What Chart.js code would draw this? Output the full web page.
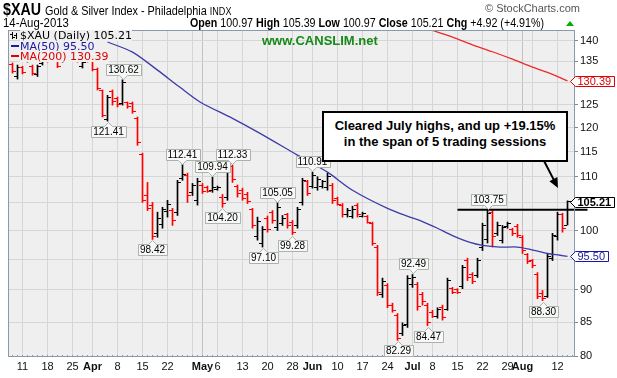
<!DOCTYPE html>
<html><head><meta charset="utf-8">
<script src="https://cdn.jsdelivr.net/npm/chart.js@4.4.0/dist/chart.umd.min.js"></script>
<style>
html,body{margin:0;padding:0;background:#fff;}
#wrap{position:relative;width:617px;height:378px;overflow:hidden;font-family:"Liberation Sans",Arial,sans-serif;}
canvas{display:block;position:absolute;left:0;top:0;}
.t{position:absolute;white-space:nowrap;color:#000;transform-origin:0 0;}
</style></head><body>
<div id="wrap">
<canvas id="c" width="617" height="378"></canvas>
<div class="t" style="left:3px;top:2px;font-weight:bold;font-size:16px;line-height:16px;transform:scaleX(0.89);">$XAU</div>
<div class="t" style="left:45px;top:5px;font-size:12px;line-height:12px;transform:scaleX(0.905);">Gold &amp; Silver Index - Philadelphia <span style="font-size:10px">INDX</span></div>
<div class="t" style="left:3px;top:17px;font-size:12px;line-height:12px;transform:scaleX(0.95);">14-Aug-2013</div>
<div class="t" style="left:190px;top:17px;font-size:12px;line-height:12px;transform:scaleX(0.892);"><b>Open</b> 100.97 <b>High</b> 105.39 <b>Low</b> 100.97 <b>Close</b> 105.21 <b>Chg</b> +4.92 (+4.91%)</div>
<div class="t" style="left:485px;top:3px;font-size:11px;line-height:11px;color:#555;">© StockCharts.com</div>
<div class="t" style="left:262px;top:34px;font-size:13px;line-height:13px;font-weight:bold;color:#168a16;">www.CANSLIM.net</div>
<div class="t" style="left:20px;top:30px;font-family:'DejaVu Sans';font-size:11px;line-height:11px;background:#efefef;">$XAU (Daily) 105.21</div>
<div class="t" style="left:20px;top:41px;font-family:'DejaVu Sans';font-size:11px;line-height:11px;color:#1a1aa0;background:#efefef;">MA(50) 95.50</div>
<div class="t" style="left:20px;top:51px;font-family:'DejaVu Sans';font-size:11px;line-height:11px;color:#e00000;background:#efefef;">MA(200) 130.39</div>
<div class="t" style="left:322px;top:111px;width:242px;height:42px;border:2px solid #000;background:#fff;text-align:center;font-weight:bold;font-size:13px;line-height:16px;padding-top:5px;box-sizing:content-box;">Cleared July highs, and up +19.15%<br>in the span of 5 trading sessions</div>
</div>
<script>
// ---- data ----
const firstBarIndex = -2; // trading-day index of first bar (0 = 11-Mar-2013)
const barHigh = [134.6,134.1,133.8,136.0,134.1,134.1,135.8,136.5,136.8,136.2,136.5,137.0,137.2,136.8,135.0,136.0,135.5,133.4,128.3,127.1,128.3,126.7,130.62,125.6,125.6,122.3,114.7,108.9,105.1,103.3,104.2,105.5,104.0,109.3,112.41,110.7,108.7,109.7,108.7,108.2,109.94,108.2,106.6,111.7,112.33,108.4,107.8,107.0,104.0,102.4,100.7,102.6,103.6,105.05,102.7,103.1,101.8,104.2,109.7,109.3,110.91,110.0,109.3,110.7,108.7,106.1,104.9,104.0,104.4,104.9,103.3,102.7,101.5,97.4,91.9,91.0,87.9,86.3,84.9,92.3,92.49,91.2,89.6,87.9,86.8,87.2,87.6,91.9,90.4,90.2,94.0,95.2,92.8,95.2,101.3,103.75,103.6,101.5,100.9,101.5,100.4,101.1,99.1,96.0,95.0,92.8,89.9,96.0,99.5,103.3,103.1,105.39];
const barLow = [132.2,130.8,132.0,134.8,131.7,131.4,134.1,134.8,134.9,133.5,134.8,135.2,135.3,134.8,133.4,134.8,132.7,128.3,122.3,121.41,124.9,124.5,124.9,124.2,123.1,116.3,105.1,103.6,98.42,98.8,100.4,102.4,100.9,102.7,109.3,105.1,106.4,104.6,106.8,107.0,107.0,107.4,104.2,105.5,108.9,106.1,105.5,104.9,100.4,98.3,97.10,99.7,101.3,100.0,100.9,100.4,99.28,100.4,104.6,106.4,107.8,107.4,107.8,107.4,104.9,104.6,102.4,102.4,102.2,102.4,102.4,101.3,97.4,89.1,88.8,87.2,86.5,82.29,83.0,84.2,90.4,86.8,87.6,84.47,85.7,85.6,85.3,86.8,89.4,89.4,90.2,91.5,91.0,92.0,96.5,97.8,97.1,99.1,97.8,100.4,99.1,98.8,96.0,94.3,93.6,88.6,88.30,88.8,94.8,98.3,99.7,100.97];
const barOpen = [134.3,131.3,133.5,135.0,133.8,131.9,134.4,136.2,135.2,135.9,135.0,136.8,135.6,136.5,133.7,135.8,135.2,133.0,128.1,121.8,127.9,126.4,125.3,125.4,125.2,122.0,114.5,106.4,104.6,99.4,101.0,103.4,103.6,103.2,109.6,110.2,106.9,105.4,108.4,107.9,107.4,107.6,106.1,106.1,112.0,108.1,107.3,106.6,103.7,98.9,97.7,102.2,103.2,100.6,101.3,102.8,101.4,100.8,105.0,109.0,108.2,107.9,108.2,107.9,108.4,105.9,104.6,102.8,102.6,104.6,102.6,102.5,101.3,97.1,89.3,90.7,87.6,86.0,83.3,84.6,90.8,90.9,89.3,87.6,86.5,85.9,87.3,87.0,90.2,90.0,90.6,94.8,92.5,92.4,97.0,98.5,103.2,99.5,98.2,100.7,100.2,100.7,98.8,95.8,94.8,92.5,89.4,89.0,95.2,99.0,102.8,100.97];
const barClose = [132.6,133.6,132.4,135.8,132.0,133.8,135.5,135.0,136.5,133.8,136.2,135.5,136.9,135.0,134.6,135.0,133.0,128.6,122.6,126.6,125.6,125.0,129.9,124.5,123.5,116.8,105.4,103.9,98.9,102.2,103.8,104.8,101.8,108.9,110.4,106.4,108.3,109.1,107.1,107.2,107.9,108.0,104.9,111.3,109.5,106.8,105.9,105.2,100.8,101.6,100.2,100.1,101.8,104.2,102.2,100.9,99.7,103.8,109.3,106.8,110.3,109.4,109.0,110.1,105.4,104.8,102.8,103.6,103.8,102.8,103.1,101.5,97.8,89.6,91.4,87.6,86.8,82.6,84.5,91.8,92.0,87.4,88.1,85.0,85.9,86.9,85.7,91.5,89.6,89.6,93.6,92.0,91.3,94.8,100.8,103.0,99.0,100.9,100.6,101.2,99.4,99.2,96.5,94.6,93.9,89.0,88.6,95.5,99.1,102.8,100.29,105.21];

const ma50Index  = [17,22,27,31.5,35.5,42,47.5,55,61,66,73,77.5,80,83,86,89.5,92,95.5,99,101.5,105,107.5,109];
const ma50Values = [139.7,137.2,132.9,128.9,125.6,122.0,118.8,114.3,110.9,107.4,104.0,102.4,101.6,100.4,99.1,97.9,97.4,97.1,97.1,96.7,96.0,95.7,95.50];
const ma200Index  = [80,82,86,90,94,98,102,106,109];
const ma200Values = [143.6,142.6,140.9,139.0,137.3,135.5,133.6,131.9,130.39];

const xTickIndex  = [0,5,10,14,19,24,29,34,36,39,44,49,54,58,63,68,73,78,82,87,92,97,100,102,107];
const xTickLabels = ['11','18','25','Apr','8','15','22','','May','6','13','20','28','Jun','10','17','24','Jul','8','15','22','29','Aug','','12'];
const monthLabels = ['Apr','May','Jun','Jul','Aug'];
const yTickValues = [80,85,90,95,100,105,110,115,120,125,130,135,140];

const calloutIndex = [20,17,26,32,38,40,42,51,48,54,58,75,78,81,93,104];
const calloutSide  = ['H','L','L','H','H','L','H','H','L','L','H','L','H','L','H','L'];

const breakoutLevel = 103.75;
const breakoutFrom = 87, breakoutTo = 113;

// ---- build ----
const idx = barHigh.map((_, i) => i + firstBarIndex);
const RED = '#ff0000', BLK = '#000000';
const isRed = i => barClose[i] < barOpen[i];
function tickImg(color, left) {
  const c = document.createElement('canvas'); c.width = 7; c.height = 1;
  const g = c.getContext('2d'); g.fillStyle = color; g.fillRect(left ? 0 : 4, 0, 3, 1); return c;
}
const imgs = { oR: tickImg(RED, true), oB: tickImg(BLK, true), cR: tickImg(RED, false), cB: tickImg(BLK, false) };
const FONT = "'Liberation Sans', Arial, sans-serif";

const decor = {
  id: 'decor',
  beforeDraw(chart) {
    const { ctx, chartArea: a } = chart;
    ctx.save(); ctx.fillStyle = '#efefef';
    ctx.fillRect(a.left, a.top, a.right - a.left, a.bottom - a.top); ctx.restore();
  },
  beforeDatasetsDraw(chart) { chart.ctx.imageSmoothingEnabled = false; },
  afterDraw(chart) {
    const { ctx, chartArea: a, scales: { x, y } } = chart;
    ctx.save();
    ctx.imageSmoothingEnabled = true;
    // daily tick marks along bottom
    ctx.fillStyle = '#999';
    for (let k = Math.ceil(x.min); k <= Math.floor(x.max); k++) {
      ctx.fillRect(Math.round(x.getPixelForValue(k) - 0.5), a.bottom - 2, 1, 2);
    }
    // border
    ctx.strokeStyle = '#8a9aaa'; ctx.lineWidth = 1;
    ctx.strokeRect(a.left + 0.5, a.top + 0.5, a.right - a.left - 1, a.bottom - a.top - 1);
    // callouts
    ctx.font = '10px ' + FONT; ctx.textBaseline = 'middle'; ctx.textAlign = 'center';
    calloutIndex.forEach((bi, k) => {
      const i = bi - firstBarIndex;
      const hi = calloutSide[k] === 'H';
      const v = hi ? barHigh[i] : barLow[i];
      const px = Math.round(x.getPixelForValue(bi)) + 0.5;
      const py = Math.round(y.getPixelForValue(v));
      const txt = v.toFixed(2);
      const w = Math.round(ctx.measureText(txt).width) + 4, h = 11;
      const bx = Math.round(px - w / 2) + 0.5;
      const by = hi ? py - 5 - h + 0.5 : py + 5 + 0.5;
      ctx.beginPath();
      if (hi) {
        ctx.moveTo(bx, by); ctx.lineTo(bx + w, by); ctx.lineTo(bx + w, by + h);
        ctx.lineTo(px + 4, by + h); ctx.lineTo(px, by + h + 4); ctx.lineTo(px - 4, by + h); ctx.lineTo(bx, by + h);
      } else {
        ctx.moveTo(bx, by); ctx.lineTo(px - 4, by); ctx.lineTo(px, by - 4); ctx.lineTo(px + 4, by);
        ctx.lineTo(bx + w, by); ctx.lineTo(bx + w, by + h); ctx.lineTo(bx, by + h);
      }
      ctx.closePath();
      ctx.fillStyle = '#f8f8f8'; ctx.fill();
      ctx.strokeStyle = '#a9b3a9'; ctx.stroke();
      ctx.fillStyle = '#000'; ctx.fillText(txt, px, by + h / 2 + 0.5);
    });
    // right value tags
    const tags = [
      [ma200Values[ma200Values.length - 1], '#e00000', 'normal'],
      [barClose[barClose.length - 1], '#000', 'bold'],
      [ma50Values[ma50Values.length - 1], '#1a1aa0', 'normal']
    ];
    tags.forEach(([v, col, wt]) => {
      const yc = Math.round(y.getPixelForValue(v)) + 0.5;
      const x0 = a.right - 4.5, x1 = a.right + 0.5;
      ctx.font = wt + ' 11px ' + FONT;
      const w = Math.round(ctx.measureText(v.toFixed(2)).width) + 5;
      ctx.beginPath();
      ctx.moveTo(x0, yc); ctx.lineTo(x1, yc - 5); ctx.lineTo(x1 + w, yc - 5);
      ctx.lineTo(x1 + w, yc + 5); ctx.lineTo(x1, yc + 5); ctx.closePath();
      ctx.fillStyle = '#fff'; ctx.fill();
      ctx.strokeStyle = col; ctx.lineWidth = 1; ctx.stroke();
      ctx.fillStyle = col; ctx.textAlign = 'left'; ctx.fillText(v.toFixed(2), x1 + 2, yc + 0.5);
    });
    // arrow
    ctx.strokeStyle = '#000'; ctx.fillStyle = '#000'; ctx.lineWidth = 2;
    const ax0 = 542, ay0 = 157, ax1 = 558, ay1 = 188;
    const ang = Math.atan2(ay1 - ay0, ax1 - ax0);
    ctx.beginPath(); ctx.moveTo(ax0, ay0);
    ctx.lineTo(ax1 - 8 * Math.cos(ang), ay1 - 8 * Math.sin(ang)); ctx.stroke();
    ctx.beginPath(); ctx.moveTo(ax1, ay1);
    ctx.lineTo(ax1 - 10 * Math.cos(ang) + 4.5 * Math.sin(ang), ay1 - 10 * Math.sin(ang) - 4.5 * Math.cos(ang));
    ctx.lineTo(ax1 - 10 * Math.cos(ang) - 4.5 * Math.sin(ang), ay1 - 10 * Math.sin(ang) + 4.5 * Math.cos(ang));
    ctx.closePath(); ctx.fill();
    // legend glyphs
    ctx.fillStyle = '#000';
    ctx.fillRect(12, 32, 1, 7); ctx.fillRect(10, 34, 2, 1); ctx.fillRect(13, 37, 2, 1);
    ctx.fillRect(16, 33, 1, 6); ctx.fillRect(14, 35, 2, 1);
    ctx.fillStyle = '#1a1aa0'; ctx.fillRect(11, 45, 8, 2);
    ctx.fillStyle = '#e00000'; ctx.fillRect(11, 55, 8, 2);
    // green up triangle
    ctx.fillStyle = '#00b000'; ctx.beginPath(); ctx.moveTo(566, 26); ctx.lineTo(574, 26); ctx.lineTo(570, 21); ctx.closePath(); ctx.fill();
    ctx.restore();
  }
};

new Chart(document.getElementById('c'), {
  type: 'bar',
  data: {
    datasets: [
      { type: 'line', data: [{ x: breakoutFrom, y: breakoutLevel }, { x: breakoutTo, y: breakoutLevel }],
        borderColor: '#000', borderWidth: 2, pointRadius: 0, clip: false, order: 0 },
      { type: 'line', data: ma50Index.map((v, i) => ({ x: v, y: ma50Values[i] })),
        borderColor: '#3c3ca8', borderWidth: 1.3, pointRadius: 0, tension: 0.3, order: 1 },
      { type: 'line', data: ma200Index.map((v, i) => ({ x: v, y: ma200Values[i] })),
        borderColor: '#ee2a2a', borderWidth: 1.3, pointRadius: 0, tension: 0.3, order: 1 },
      { type: 'scatter', data: idx.map((v, i) => ({ x: v, y: barOpen[i] })),
        pointStyle: c => isRed(c.dataIndex) ? imgs.oR : imgs.oB, pointRadius: 3, order: 2 },
      { type: 'scatter', data: idx.map((v, i) => ({ x: v, y: barClose[i] })),
        pointStyle: c => isRed(c.dataIndex) ? imgs.cR : imgs.cB, pointRadius: 3, order: 2 },
      { type: 'bar', data: idx.map((v, i) => ({ x: v, y: [barLow[i], barHigh[i]] })),
        backgroundColor: c => isRed(c.dataIndex) ? RED : BLK, borderWidth: 0,
        barThickness: 1, grouped: false, order: 3 }
    ]
  },
  options: {
    responsive: false, animation: false, devicePixelRatio: 1, events: [],
    layout: { padding: { left: 8, top: 30, right: 0, bottom: 0 } },
    plugins: { legend: { display: false }, tooltip: { enabled: false } },
    scales: {
      x: {
        type: 'linear', min: -2.9, max: 110.5, offset: false,
        afterBuildTicks: s => { s.ticks = xTickIndex.map(v => ({ value: v })); },
        afterFit: s => { s.height = 21; },
        grid: { offset: false, drawTicks: false, lineWidth: 1,
          color: c => (['May', 'Aug'].includes(xTickLabels[c.index]) ? '#c2c2c2' : '#d6d6d6') },
        border: { display: false },
        ticks: { autoSkip: false, maxRotation: 0, minRotation: 0, padding: 3, color: '#111',
          font: c => ({ family: FONT, size: 11, weight: monthLabels.includes(xTickLabels[c.index]) ? 'bold' : 'normal' }),
          callback: (v, i) => xTickLabels[i] }
      },
      y: {
        type: 'logarithmic', position: 'right', min: 79.9, max: 142.7,
        afterBuildTicks: s => { s.ticks = yTickValues.map(v => ({ value: v })); },
        afterFit: s => { s.width = 42; },
        grid: { color: '#d6d6d6', tickLength: 3, tickColor: '#888' },
        border: { display: false },
        ticks: { padding: 2, color: '#111', font: { family: FONT, size: 11 }, callback: v => String(v) }
      }
    }
  },
  plugins: [decor]
});
</script>
</body></html>
